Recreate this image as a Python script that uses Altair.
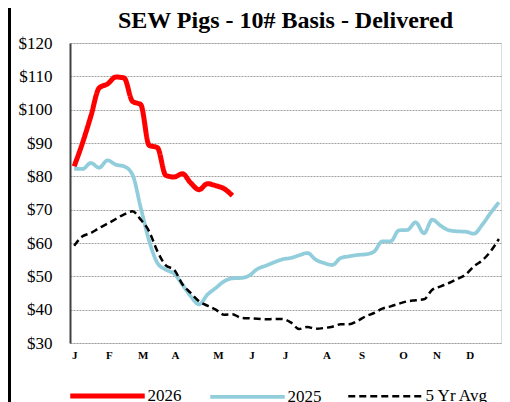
import altair as alt
import pandas as pd

# ---- data ----
series_names = ["2026", "2025", "5 Yr Avg"]
series_colors = ["#ff0000", "#92cddc", "#000000"]

weeks = list(range(1, 53))

s2026 = [83, 90, 98, 106.5, 107.7, 109.8, 109.5, 102.5, 101.5, 89.3,
         88.6, 80.3, 79.8, 80.8, 78, 76, 77.8, 77.2, 76.3, 74.2]

s2025 = [82.3, 82.2, 84, 82.6, 84.8, 83.5, 83, 80.5, 70.5, 60.7,
         54, 52, 50.8, 47.5, 44, 41.6, 44.5, 46.5, 48.5, 49.4,
         49.5, 50.2, 52.2, 53.2, 54.2, 55.1, 55.5, 56.3, 57, 55,
         54, 53.4, 55.5, 56, 56.4, 56.6, 57.4, 60.5, 60.5, 63.8,
         63.9, 66.2, 62.9, 67, 65.2, 63.8, 63.5, 63.4, 62.8, 65.5,
         69, 72.2]

avg5 = [59.2, 62, 63, 64.5, 65.8, 67.2, 68.6, 69.5, 67, 63.5,
        57.5, 53.3, 52, 47.6, 45, 42.5, 41.2, 40, 38.5, 38.6,
        37.6, 37.4, 37.3, 37.1, 37.2, 37.2, 36.2, 34.2, 34.8, 34.3,
        34.5, 34.9, 35.6, 35.6, 36.6, 38, 39, 40.3, 41, 41.8,
        42.5, 42.8, 43.1, 46, 47, 48, 49.2, 50.5, 53, 54.8,
        57.5, 61.2]

month_labels = ["J", "F", "M", "A", "M", "J", "J", "A", "S", "O", "N", "D"]
month_weeks = [1.02, 5.18, 9.23, 13.1, 18.27, 22.3, 26.3, 31.3, 35.5, 40.5, 44.5, 48.5]

y_ticks = [30, 40, 50, 60, 70, 80, 90, 100, 110, 120]

rows = []
for name, vals in zip(series_names, [s2026, s2025, avg5]):
    for w, v in zip(weeks, vals):
        rows.append({"week": w, "value": v, "series": name})
df = pd.DataFrame(rows)

SERIF = "Liberation Serif, Times New Roman, serif"

label_expr = "{}[indexof({}, datum.value)]".format(
    "[" + ",".join("'%s'" % m for m in month_labels) + "]",
    "[" + ",".join(str(w) for w in month_weeks) + "]",
)

leg = alt.Legend(
    title=None, orient="none", legendX=-2.5, legendY=313, direction="horizontal",
    columns=3, columnPadding=21, symbolType="stroke", symbolSize=5550,
    labelFont=SERIF, labelFontSize=17, labelColor="black", labelOffset=0,
    padding=0, labelLimit=200,
)

lines = alt.Chart(df).mark_line(interpolate="monotone", clip=True).encode(
    x=alt.X("week:Q",
            scale=alt.Scale(domain=[0.5, 52.25], nice=False, zero=False),
            axis=alt.Axis(values=month_weeks, labelExpr=label_expr, title=None,
                          ticks=False, domain=False, grid=False,
                          labelFont=SERIF, labelFontSize=11, labelFontWeight="bold",
                          labelColor="black", labelPadding=6, labelFlush=False,
                          labelOverlap=False)),
    y=alt.Y("value:Q",
            scale=alt.Scale(domain=[30, 120], nice=False, zero=False),
            axis=alt.Axis(values=y_ticks, labelExpr="'$' + datum.value", title=None,
                          ticks=False, domain=True, domainColor="#404040", domainWidth=2,
                          grid=True, gridColor="#a0a0a0", gridDash=[2, 1], gridWidth=1,
                          labelFont=SERIF, labelFontSize=17, labelColor="black",
                          labelPadding=18)),
    color=alt.Color("series:N", sort=series_names,
                    scale=alt.Scale(domain=series_names, range=series_colors), legend=leg),
    strokeDash=alt.StrokeDash("series:N", sort=series_names,
                              scale=alt.Scale(domain=series_names, range=[[1, 0], [1, 0], [7, 4]]),
                              legend=leg),
    strokeWidth=alt.StrokeWidth("series:N", sort=series_names,
                                scale=alt.Scale(domain=series_names, range=[5, 2.5, 2.5]),
                                legend=leg),
)

# left black border bar visible in the reference crop
bar = alt.Chart(pd.DataFrame({"a": [0]})).mark_rule(color="black", strokeWidth=3).encode(
    x=alt.value(-60.5), y=alt.value(-43), y2=alt.value(360)
)

chart = alt.layer(lines, bar).properties(
    width=431, height=300,
    autosize=alt.AutoSizeParams(type="none"),
    padding={"left": 62, "top": 35, "right": 1, "bottom": 59},
    title=alt.Title("SEW Pigs - 10# Basis - Delivered", font=SERIF, fontSize=24,
                    fontWeight="bold", color="black", anchor="middle", offset=-53.5,
                    frame="group", baseline="alphabetic"),
).configure_view(stroke="#8c8c8c", strokeWidth=2.5).configure(background="white")

chart.save("out.html", embed_options={"renderer": "svg", "actions": False})
